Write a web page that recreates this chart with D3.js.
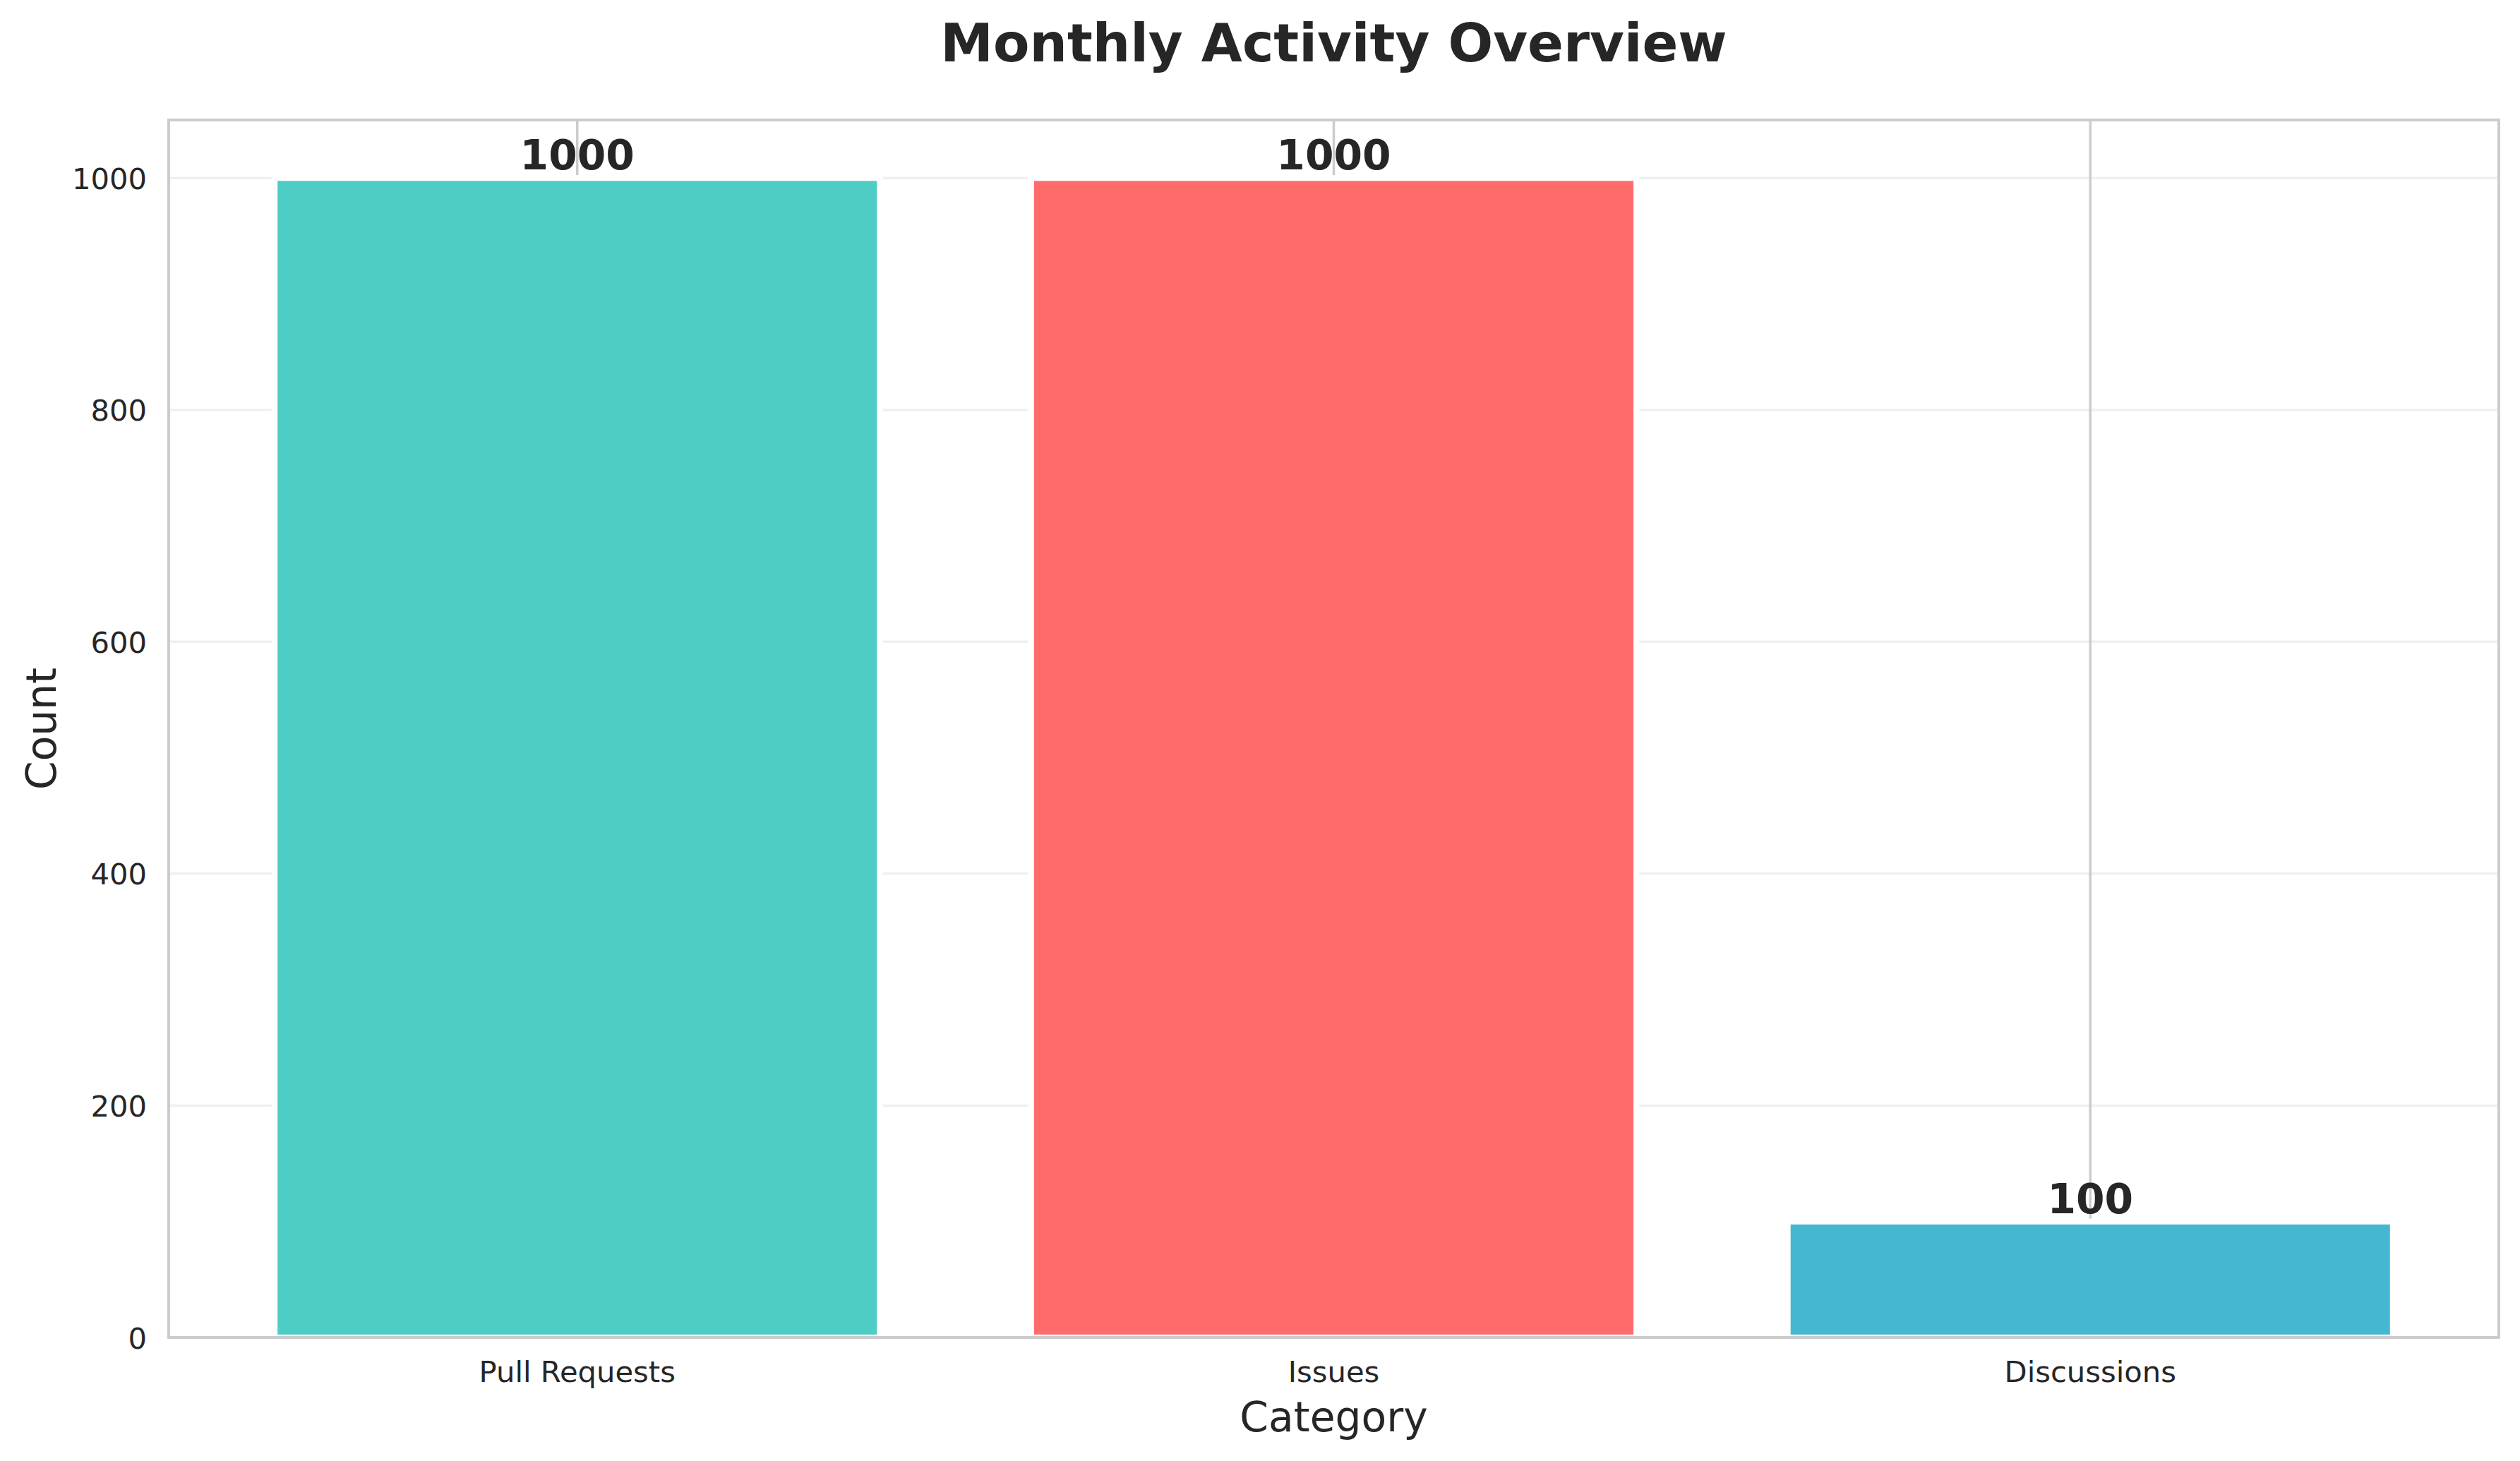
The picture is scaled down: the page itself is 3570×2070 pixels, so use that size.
<!DOCTYPE html>
<html>
<head>
<meta charset="utf-8">
<script src="https://cdn.jsdelivr.net/npm/d3@7"></script>
<style>
  html, body { margin: 0; padding: 0; background: #ffffff; }
  svg { display: block; font-family: "DejaVu Sans", sans-serif; }
</style>
</head>
<body>
<svg id="chart" width="3570" height="2070"></svg>
<script>
const categories = ["Pull Requests", "Issues", "Discussions"];
const counts = [1000, 1000, 100];
const barColors = ["#4ECDC4", "#FF6B6B", "#45B7D1"];
const yTickValues = [0, 200, 400, 600, 800, 1000];
const titleText = "Monthly Activity Overview";
const xLabelText = "Category";
const yLabelText = "Count";

const W = 3570, H = 2070;
const margin = { left: 239, right: W - 3540, top: 170, bottom: H - 1895 };
const svg = d3.select("#chart");
svg.append("rect").attr("width", W).attr("height", H).attr("fill", "#ffffff");

const x = d3.scaleBand()
  .domain(categories)
  .range([margin.left, W - margin.right])
  .paddingInner(0.2)
  .paddingOuter(0.14);

const y = d3.scaleLinear()
  .domain([0, 1050])
  .range([H - margin.bottom, margin.top]);

const textColor = "#262626";

// horizontal grid
svg.append("g")
  .selectAll("line")
  .data(yTickValues)
  .join("line")
  .attr("x1", margin.left).attr("x2", W - margin.right)
  .attr("y1", d => y(d)).attr("y2", d => y(d))
  .attr("stroke", "#f0f0f0").attr("stroke-width", 3.5);

// vertical grid
svg.append("g")
  .selectAll("line")
  .data(categories)
  .join("line")
  .attr("x1", d => x(d) + x.bandwidth() / 2).attr("x2", d => x(d) + x.bandwidth() / 2)
  .attr("y1", margin.top).attr("y2", H - margin.bottom)
  .attr("stroke", "#cccccc").attr("stroke-width", 3.5);

// bars
svg.append("g")
  .selectAll("rect")
  .data(categories)
  .join("rect")
  .attr("x", d => x(d))
  .attr("width", x.bandwidth())
  .attr("y", (d, i) => y(counts[i]))
  .attr("height", (d, i) => y(0) - y(counts[i]))
  .attr("fill", (d, i) => barColors[i])
  .attr("stroke", "#ffffff")
  .attr("stroke-width", 8.3);

// value labels
svg.append("g")
  .selectAll("text")
  .data(categories)
  .join("text")
  .attr("x", d => x(d) + x.bandwidth() / 2)
  .attr("y", (d, i) => y(counts[i]) - 12)
  .attr("text-anchor", "middle")
  .attr("font-size", 58.3)
  .attr("font-weight", "bold")
  .attr("fill", textColor)
  .text((d, i) => counts[i]);

// y axis
const yAxis = d3.axisLeft(y).tickValues(yTickValues).tickSize(0).tickPadding(31).tickFormat(d3.format("d"));
const gy = svg.append("g").attr("transform", `translate(${margin.left},0)`).call(yAxis);
gy.select(".domain").remove();
gy.selectAll("text").attr("font-size", 41.7).attr("fill", textColor)
  .attr("font-family", "DejaVu Sans, sans-serif").attr("dy", "0.36em");

// x axis
const xAxis = d3.axisBottom(x).tickSize(0).tickPadding(0);
const gx = svg.append("g").attr("transform", `translate(0,${H - margin.bottom})`).call(xAxis);
gx.select(".domain").remove();
gx.selectAll("text").attr("font-size", 41.7).attr("fill", textColor)
  .attr("font-family", "DejaVu Sans, sans-serif").attr("dy", null).attr("y", 63);

// spines
svg.append("rect")
  .attr("x", margin.left).attr("y", margin.top)
  .attr("width", W - margin.right - margin.left)
  .attr("height", H - margin.bottom - margin.top)
  .attr("fill", "none").attr("stroke", "#cccccc").attr("stroke-width", 4);

// title
svg.append("text")
  .attr("x", (margin.left + W - margin.right) / 2).attr("y", 87)
  .attr("text-anchor", "middle").attr("font-size", 75).attr("font-weight", "bold")
  .attr("fill", textColor).text(titleText);

// x label
svg.append("text")
  .attr("x", (margin.left + W - margin.right) / 2).attr("y", 2028)
  .attr("text-anchor", "middle").attr("font-size", 58.3)
  .attr("fill", textColor).text(xLabelText);

// y label
svg.append("text")
  .attr("transform", `translate(79,${(margin.top + H - margin.bottom) / 2}) rotate(-90)`)
  .attr("text-anchor", "middle").attr("font-size", 58.3)
  .attr("fill", textColor).text(yLabelText);
</script>
</body>
</html>
